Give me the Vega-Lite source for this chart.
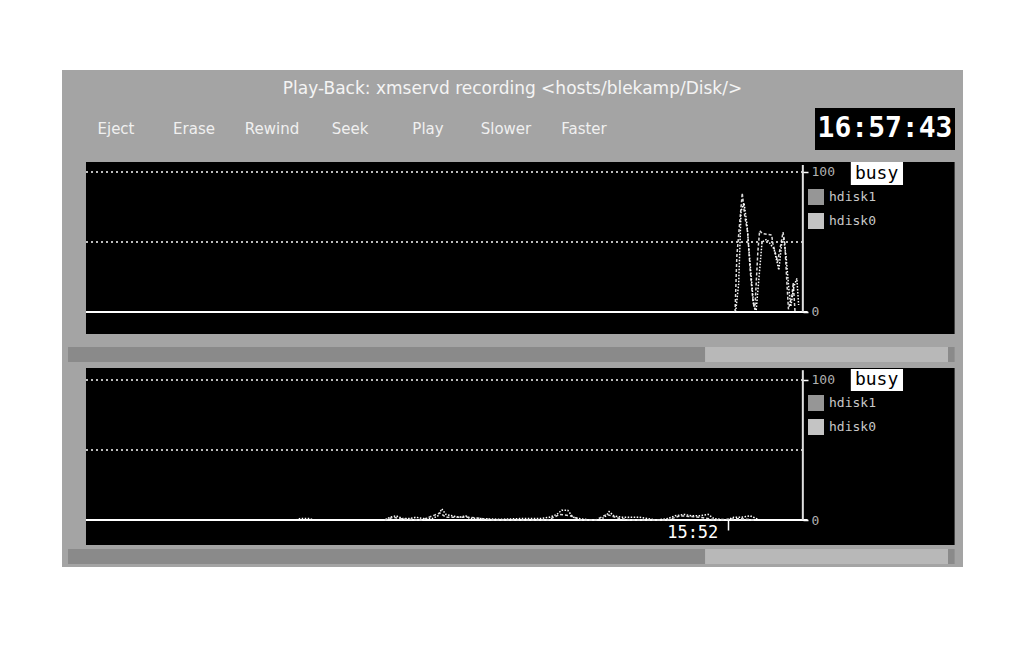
{
  "$schema": "https://vega.github.io/schema/vega-lite/v6.json",
  "background": "white",
  "padding": {"left": 62, "top": 70, "right": 47, "bottom": 84},
  "spacing": 0,
  "config": {"view": {"stroke": null, "fill": "#a4a4a4"}, "concat": {"spacing": 0}},
  "resolve": {"scale": {"color": "independent", "strokeDash": "independent"}, "legend": {"color": "independent", "strokeDash": "independent"}},
  "datasets": {
    "top": [
      {"time": "2024-01-01T15:52:12", "disk": "hdisk1", "busy": 0},
      {"time": "2024-01-01T15:52:15", "disk": "hdisk1", "busy": 40},
      {"time": "2024-01-01T15:52:24", "disk": "hdisk1", "busy": 85},
      {"time": "2024-01-01T15:52:28", "disk": "hdisk1", "busy": 69},
      {"time": "2024-01-01T15:52:33", "disk": "hdisk1", "busy": 57},
      {"time": "2024-01-01T15:52:37", "disk": "hdisk1", "busy": 31},
      {"time": "2024-01-01T15:52:42", "disk": "hdisk1", "busy": 7},
      {"time": "2024-01-01T15:52:45", "disk": "hdisk1", "busy": 2},
      {"time": "2024-01-01T15:52:50", "disk": "hdisk1", "busy": 43},
      {"time": "2024-01-01T15:52:53", "disk": "hdisk1", "busy": 58},
      {"time": "2024-01-01T15:52:58", "disk": "hdisk1", "busy": 56},
      {"time": "2024-01-01T15:53:13", "disk": "hdisk1", "busy": 55},
      {"time": "2024-01-01T15:53:15", "disk": "hdisk1", "busy": 49},
      {"time": "2024-01-01T15:53:23", "disk": "hdisk1", "busy": 36},
      {"time": "2024-01-01T15:53:32", "disk": "hdisk1", "busy": 57},
      {"time": "2024-01-01T15:53:35", "disk": "hdisk1", "busy": 49},
      {"time": "2024-01-01T15:53:38", "disk": "hdisk1", "busy": 24},
      {"time": "2024-01-01T15:53:41", "disk": "hdisk1", "busy": 2},
      {"time": "2024-01-01T15:53:47", "disk": "hdisk1", "busy": 12},
      {"time": "2024-01-01T15:53:49", "disk": "hdisk1", "busy": 21},
      {"time": "2024-01-01T15:53:52", "disk": "hdisk1", "busy": 0},
      {"time": "2024-01-01T15:52:13", "disk": "hdisk0", "busy": 0},
      {"time": "2024-01-01T15:52:18", "disk": "hdisk0", "busy": 20},
      {"time": "2024-01-01T15:52:22", "disk": "hdisk0", "busy": 72},
      {"time": "2024-01-01T15:52:27", "disk": "hdisk0", "busy": 78},
      {"time": "2024-01-01T15:52:32", "disk": "hdisk0", "busy": 62},
      {"time": "2024-01-01T15:52:35", "disk": "hdisk0", "busy": 45},
      {"time": "2024-01-01T15:52:40", "disk": "hdisk0", "busy": 20},
      {"time": "2024-01-01T15:52:43", "disk": "hdisk0", "busy": 5},
      {"time": "2024-01-01T15:52:47", "disk": "hdisk0", "busy": 0},
      {"time": "2024-01-01T15:52:52", "disk": "hdisk0", "busy": 25},
      {"time": "2024-01-01T15:52:57", "disk": "hdisk0", "busy": 50},
      {"time": "2024-01-01T15:53:05", "disk": "hdisk0", "busy": 52},
      {"time": "2024-01-01T15:53:17", "disk": "hdisk0", "busy": 45},
      {"time": "2024-01-01T15:53:25", "disk": "hdisk0", "busy": 30},
      {"time": "2024-01-01T15:53:30", "disk": "hdisk0", "busy": 50},
      {"time": "2024-01-01T15:53:33", "disk": "hdisk0", "busy": 52},
      {"time": "2024-01-01T15:53:37", "disk": "hdisk0", "busy": 40},
      {"time": "2024-01-01T15:53:42", "disk": "hdisk0", "busy": 15},
      {"time": "2024-01-01T15:53:45", "disk": "hdisk0", "busy": 4},
      {"time": "2024-01-01T15:53:50", "disk": "hdisk0", "busy": 18},
      {"time": "2024-01-01T15:53:55", "disk": "hdisk0", "busy": 24},
      {"time": "2024-01-01T15:53:58", "disk": "hdisk0", "busy": 5}
    ],
    "bottom": [
      {"time": "2024-01-01T15:40:00", "disk": "hdisk0", "busy": 0},
      {"time": "2024-01-01T15:40:07", "disk": "hdisk0", "busy": 1},
      {"time": "2024-01-01T15:40:23", "disk": "hdisk0", "busy": 1},
      {"time": "2024-01-01T15:40:30", "disk": "hdisk0", "busy": 0},
      {"time": "2024-01-01T15:42:28", "disk": "hdisk0", "busy": 0},
      {"time": "2024-01-01T15:42:37", "disk": "hdisk0", "busy": 2},
      {"time": "2024-01-01T15:42:47", "disk": "hdisk0", "busy": 3},
      {"time": "2024-01-01T15:42:58", "disk": "hdisk0", "busy": 1},
      {"time": "2024-01-01T15:43:10", "disk": "hdisk0", "busy": 1},
      {"time": "2024-01-01T15:43:20", "disk": "hdisk0", "busy": 2},
      {"time": "2024-01-01T15:43:33", "disk": "hdisk0", "busy": 1},
      {"time": "2024-01-01T15:43:47", "disk": "hdisk0", "busy": 1},
      {"time": "2024-01-01T15:43:57", "disk": "hdisk0", "busy": 3},
      {"time": "2024-01-01T15:44:03", "disk": "hdisk0", "busy": 8},
      {"time": "2024-01-01T15:44:10", "disk": "hdisk0", "busy": 4},
      {"time": "2024-01-01T15:44:20", "disk": "hdisk0", "busy": 3},
      {"time": "2024-01-01T15:44:33", "disk": "hdisk0", "busy": 2},
      {"time": "2024-01-01T15:44:43", "disk": "hdisk0", "busy": 3},
      {"time": "2024-01-01T15:44:50", "disk": "hdisk0", "busy": 1},
      {"time": "2024-01-01T15:45:07", "disk": "hdisk0", "busy": 1},
      {"time": "2024-01-01T15:45:40", "disk": "hdisk0", "busy": 0.5},
      {"time": "2024-01-01T15:46:13", "disk": "hdisk0", "busy": 1},
      {"time": "2024-01-01T15:46:47", "disk": "hdisk0", "busy": 1},
      {"time": "2024-01-01T15:47:03", "disk": "hdisk0", "busy": 2},
      {"time": "2024-01-01T15:47:15", "disk": "hdisk0", "busy": 4},
      {"time": "2024-01-01T15:47:23", "disk": "hdisk0", "busy": 7},
      {"time": "2024-01-01T15:47:33", "disk": "hdisk0", "busy": 7},
      {"time": "2024-01-01T15:47:42", "disk": "hdisk0", "busy": 2},
      {"time": "2024-01-01T15:47:53", "disk": "hdisk0", "busy": 1},
      {"time": "2024-01-01T15:48:10", "disk": "hdisk0", "busy": 0},
      {"time": "2024-01-01T15:48:27", "disk": "hdisk0", "busy": 0},
      {"time": "2024-01-01T15:48:37", "disk": "hdisk0", "busy": 3},
      {"time": "2024-01-01T15:48:42", "disk": "hdisk0", "busy": 6},
      {"time": "2024-01-01T15:48:50", "disk": "hdisk0", "busy": 3},
      {"time": "2024-01-01T15:49:03", "disk": "hdisk0", "busy": 2},
      {"time": "2024-01-01T15:49:17", "disk": "hdisk0", "busy": 2},
      {"time": "2024-01-01T15:49:33", "disk": "hdisk0", "busy": 2},
      {"time": "2024-01-01T15:49:47", "disk": "hdisk0", "busy": 1},
      {"time": "2024-01-01T15:50:00", "disk": "hdisk0", "busy": 0},
      {"time": "2024-01-01T15:50:20", "disk": "hdisk0", "busy": 1},
      {"time": "2024-01-01T15:50:32", "disk": "hdisk0", "busy": 3},
      {"time": "2024-01-01T15:50:47", "disk": "hdisk0", "busy": 4},
      {"time": "2024-01-01T15:51:00", "disk": "hdisk0", "busy": 3},
      {"time": "2024-01-01T15:51:13", "disk": "hdisk0", "busy": 3},
      {"time": "2024-01-01T15:51:27", "disk": "hdisk0", "busy": 4},
      {"time": "2024-01-01T15:51:37", "disk": "hdisk0", "busy": 1},
      {"time": "2024-01-01T15:51:57", "disk": "hdisk0", "busy": 0},
      {"time": "2024-01-01T15:52:10", "disk": "hdisk0", "busy": 2},
      {"time": "2024-01-01T15:52:23", "disk": "hdisk0", "busy": 2},
      {"time": "2024-01-01T15:52:37", "disk": "hdisk0", "busy": 3},
      {"time": "2024-01-01T15:52:48", "disk": "hdisk0", "busy": 1},
      {"time": "2024-01-01T15:52:53", "disk": "hdisk0", "busy": 0},
      {"time": "2024-01-01T15:42:28", "disk": "hdisk1", "busy": 0},
      {"time": "2024-01-01T15:42:42", "disk": "hdisk1", "busy": 2},
      {"time": "2024-01-01T15:42:53", "disk": "hdisk1", "busy": 1},
      {"time": "2024-01-01T15:43:30", "disk": "hdisk1", "busy": 0},
      {"time": "2024-01-01T15:44:00", "disk": "hdisk1", "busy": 5},
      {"time": "2024-01-01T15:44:10", "disk": "hdisk1", "busy": 2},
      {"time": "2024-01-01T15:44:50", "disk": "hdisk1", "busy": 2},
      {"time": "2024-01-01T15:45:30", "disk": "hdisk1", "busy": 0},
      {"time": "2024-01-01T15:47:00", "disk": "hdisk1", "busy": 0},
      {"time": "2024-01-01T15:47:20", "disk": "hdisk1", "busy": 4},
      {"time": "2024-01-01T15:47:37", "disk": "hdisk1", "busy": 3},
      {"time": "2024-01-01T15:47:55", "disk": "hdisk1", "busy": 0},
      {"time": "2024-01-01T15:48:20", "disk": "hdisk1", "busy": 0},
      {"time": "2024-01-01T15:48:38", "disk": "hdisk1", "busy": 4},
      {"time": "2024-01-01T15:49:00", "disk": "hdisk1", "busy": 1},
      {"time": "2024-01-01T15:49:20", "disk": "hdisk1", "busy": 0},
      {"time": "2024-01-01T15:50:20", "disk": "hdisk1", "busy": 0},
      {"time": "2024-01-01T15:50:40", "disk": "hdisk1", "busy": 3},
      {"time": "2024-01-01T15:51:13", "disk": "hdisk1", "busy": 2},
      {"time": "2024-01-01T15:51:40", "disk": "hdisk1", "busy": 0},
      {"time": "2024-01-01T15:52:20", "disk": "hdisk1", "busy": 1},
      {"time": "2024-01-01T15:52:45", "disk": "hdisk1", "busy": 0}
    ]
  },
  "vconcat": [
    {
      "width": 901, "height": 38,
      "view": {"fill": "#a4a4a4"},
      "data": {"values": [{"title": "Play-Back: xmservd recording <hosts/blekamp/Disk/>"}]},
      "mark": {"type": "text", "font": "DejaVu Sans", "fontSize": 17, "color": "#f4f4f4", "align": "center", "baseline": "middle"},
      "encoding": {
        "x": {"field": "title", "type": "nominal", "axis": null, "scale": {"type": "band", "paddingInner": 0, "paddingOuter": 0}},
        "text": {"field": "title"}
      }
    },
    {
      "spacing": 0,
      "hconcat": [
        {
          "width": 753, "height": 42,
          "view": {"fill": "#a4a4a4"},
          "data": {"values": [{"button": "Eject"}, {"button": "Erase"}, {"button": "Rewind"}, {"button": "Seek"}, {"button": "Play"}, {"button": "Slower"}, {"button": "Faster"}]},
          "mark": {"type": "text", "font": "DejaVu Sans", "fontSize": 15, "color": "#f0f0f0", "baseline": "middle"},
          "encoding": {
            "x": {"field": "button", "type": "nominal", "sort": null, "scale": {"type": "band", "range": [15, 561], "paddingInner": 0, "paddingOuter": 0}, "axis": null},
            "text": {"field": "button"}
          }
        },
        {
          "width": 140, "height": 42,
          "view": {"fill": "black"},
          "data": {"values": [{"clock": "16:57:43"}]},
          "mark": {"type": "text", "font": "DejaVu Sans Mono", "fontWeight": "bold", "fontSize": 28, "color": "white", "align": "center", "baseline": "middle"},
          "encoding": {
            "x": {"field": "clock", "type": "nominal", "axis": null, "scale": {"type": "band", "paddingInner": 0, "paddingOuter": 0}},
            "text": {"field": "clock"}
          }
        },
        {
          "width": 8, "height": 42,
          "view": {"fill": "#a4a4a4"},
          "data": {"values": [{"k": ""}]},
          "mark": "text",
          "encoding": {"x": {"field": "k", "type": "nominal", "axis": null}, "text": {"field": "k"}}
        }
      ]
    },
    {
      "width": 901, "height": 12,
      "view": {"fill": "#a4a4a4"},
      "data": {"values": [{"k": ""}]},
      "mark": "text",
      "encoding": {"x": {"field": "k", "type": "nominal", "axis": null}, "text": {"field": "k"}}
    },
    {
      "width": 901, "height": 206,
      "view": {"fill": "#a4a4a4"},
      "layer": [
        {
          "data": {"values": [{}]},
          "mark": {"type": "rect", "color": "black"},
          "encoding": {
            "x": {"datum": {"year": 2024, "month": 1, "date": 1, "hours": 15, "minutes": 34, "seconds": 10}, "type": "temporal",
                  "scale": {"domain": [{"year": 2024, "month": 1, "date": 1, "hours": 15, "minutes": 33, "seconds": 30}, {"year": 2024, "month": 1, "date": 1, "hours": 15, "minutes": 58, "seconds": 32}], "nice": false}, "axis": null},
            "x2": {"datum": {"year": 2024, "month": 1, "date": 1, "hours": 15, "minutes": 58, "seconds": 18}},
            "y": {"datum": 107.14, "type": "quantitative", "scale": {"domain": [-40, 107.14], "nice": false, "zero": false},
                  "axis": {"orient": "right", "offset": -160, "zindex": 2, "values": [0, 100], "domain": false, "grid": false, "tickColor": "white", "tickSize": 5, "tickWidth": 1.5, "labelColor": "#b0b0b0", "labelFont": "DejaVu Sans Mono", "labelFontSize": 13, "labelPadding": 3, "title": null}},
            "y2": {"datum": -15.71}
          }
        },
        {
          "data": {"values": [{}]},
          "mark": {"type": "rect", "color": "#8a8a8a"},
          "encoding": {
            "x": {"datum": {"year": 2024, "month": 1, "date": 1, "hours": 15, "minutes": 33, "seconds": 40}, "type": "temporal", "axis": null},
            "x2": {"datum": {"year": 2024, "month": 1, "date": 1, "hours": 15, "minutes": 58, "seconds": 18}},
            "y": {"datum": -25, "type": "quantitative", "axis": {"orient": "right", "offset": -160, "zindex": 2, "values": [0, 100], "domain": false, "grid": false, "tickColor": "white", "tickSize": 5, "tickWidth": 1.5, "labelColor": "#b0b0b0", "labelFont": "DejaVu Sans Mono", "labelFontSize": 13, "labelPadding": 3, "title": null}},
            "y2": {"datum": -35.7}
          }
        },
        {
          "data": {"values": [{}]},
          "mark": {"type": "rect", "color": "#b8b8b8"},
          "encoding": {
            "x": {"datum": {"year": 2024, "month": 1, "date": 1, "hours": 15, "minutes": 51, "seconds": 22}, "type": "temporal", "axis": null},
            "x2": {"datum": {"year": 2024, "month": 1, "date": 1, "hours": 15, "minutes": 58, "seconds": 7}},
            "y": {"datum": -25, "type": "quantitative", "axis": {"orient": "right", "offset": -160, "zindex": 2, "values": [0, 100], "domain": false, "grid": false, "tickColor": "white", "tickSize": 5, "tickWidth": 1.5, "labelColor": "#b0b0b0", "labelFont": "DejaVu Sans Mono", "labelFontSize": 13, "labelPadding": 3, "title": null}},
            "y2": {"datum": -35.7}
          }
        },
        {
          "data": {"values": [{"level": 50}, {"level": 100}]},
          "mark": {"type": "rule", "color": "white", "strokeDash": [2, 3], "strokeWidth": 1.5},
          "encoding": {
            "x": {"datum": {"year": 2024, "month": 1, "date": 1, "hours": 15, "minutes": 34, "seconds": 10}, "type": "temporal", "axis": null},
            "x2": {"datum": {"year": 2024, "month": 1, "date": 1, "hours": 15, "minutes": 54, "seconds": 5}},
            "y": {"field": "level", "type": "quantitative", "axis": {"orient": "right", "offset": -160, "zindex": 2, "values": [0, 100], "domain": false, "grid": false, "tickColor": "white", "tickSize": 5, "tickWidth": 1.5, "labelColor": "#b0b0b0", "labelFont": "DejaVu Sans Mono", "labelFontSize": 13, "labelPadding": 3, "title": null}}
          }
        },
        {
          "data": {"values": [{}]},
          "mark": {"type": "rule", "color": "white", "strokeWidth": 2},
          "encoding": {
            "x": {"datum": {"year": 2024, "month": 1, "date": 1, "hours": 15, "minutes": 34, "seconds": 10}, "type": "temporal", "axis": null},
            "x2": {"datum": {"year": 2024, "month": 1, "date": 1, "hours": 15, "minutes": 54, "seconds": 13}},
            "y": {"datum": 0, "type": "quantitative", "axis": {"orient": "right", "offset": -160, "zindex": 2, "values": [0, 100], "domain": false, "grid": false, "tickColor": "white", "tickSize": 5, "tickWidth": 1.5, "labelColor": "#b0b0b0", "labelFont": "DejaVu Sans Mono", "labelFontSize": 13, "labelPadding": 3, "title": null}}
          }
        },
        {
          "data": {"values": [{}]},
          "mark": {"type": "rule", "color": "#e0e0e0", "strokeWidth": 2},
          "encoding": {
            "x": {"datum": {"year": 2024, "month": 1, "date": 1, "hours": 15, "minutes": 54, "seconds": 5}, "type": "temporal", "axis": null},
            "y": {"datum": 0, "type": "quantitative", "axis": {"orient": "right", "offset": -160, "zindex": 2, "values": [0, 100], "domain": false, "grid": false, "tickColor": "white", "tickSize": 5, "tickWidth": 1.5, "labelColor": "#b0b0b0", "labelFont": "DejaVu Sans Mono", "labelFontSize": 13, "labelPadding": 3, "title": null}},
            "y2": {"datum": 105}
          }
        },
        {
          "data": {"name": "top"},
          "mark": {"type": "line", "strokeWidth": 1.5},
          "encoding": {
            "x": {"field": "time", "type": "temporal", "axis": null},
            "y": {"field": "busy", "type": "quantitative", "axis": {"orient": "right", "offset": -160, "zindex": 2, "values": [0, 100], "domain": false, "grid": false, "tickColor": "white", "tickSize": 5, "tickWidth": 1.5, "labelColor": "#b0b0b0", "labelFont": "DejaVu Sans Mono", "labelFontSize": 13, "labelPadding": 3, "title": null}},
            "color": {"field": "disk", "type": "nominal", "scale": {"domain": ["hdisk1", "hdisk0"], "range": ["#dcdcdc", "#ffffff"]},
                      "legend": {"orient": "none", "legendX": 746, "legendY": 27, "title": null, "padding": 0, "symbolType": "square", "symbolSize": 256, "labelColor": "#c8c8c8", "labelFont": "DejaVu Sans Mono", "labelFontSize": 13, "labelOffset": 5, "rowPadding": 8,
                                 "encode": {"symbols": {"update": {"fill": {"signal": "datum.value === 'hdisk1' ? '#969696' : '#c4c4c4'"}, "strokeWidth": {"value": 0}}}}}},
            "strokeDash": {"field": "disk", "type": "nominal", "scale": {"domain": ["hdisk1", "hdisk0"], "range": [[3, 2], [1.5, 1.5]]}, "legend": null}
          }
        },
        {
          "data": {"values": [{}]},
          "mark": {"type": "rect", "color": "white"},
          "encoding": {
            "x": {"datum": {"year": 2024, "month": 1, "date": 1, "hours": 15, "minutes": 55, "seconds": 25}, "type": "temporal", "axis": null},
            "x2": {"datum": {"year": 2024, "month": 1, "date": 1, "hours": 15, "minutes": 56, "seconds": 52}},
            "y": {"datum": 107.14, "type": "quantitative", "axis": {"orient": "right", "offset": -160, "zindex": 2, "values": [0, 100], "domain": false, "grid": false, "tickColor": "white", "tickSize": 5, "tickWidth": 1.5, "labelColor": "#b0b0b0", "labelFont": "DejaVu Sans Mono", "labelFontSize": 13, "labelPadding": 3, "title": null}},
            "y2": {"datum": 90.7}
          }
        },
        {
          "data": {"values": [{"label": "busy"}]},
          "mark": {"type": "text", "font": "DejaVu Sans Mono", "fontSize": 18, "color": "black", "align": "center", "baseline": "middle"},
          "encoding": {
            "x": {"datum": {"year": 2024, "month": 1, "date": 1, "hours": 15, "minutes": 56, "seconds": 8}, "type": "temporal", "axis": null},
            "y": {"datum": 98.9, "type": "quantitative", "axis": {"orient": "right", "offset": -160, "zindex": 2, "values": [0, 100], "domain": false, "grid": false, "tickColor": "white", "tickSize": 5, "tickWidth": 1.5, "labelColor": "#b0b0b0", "labelFont": "DejaVu Sans Mono", "labelFontSize": 13, "labelPadding": 3, "title": null}},
            "text": {"field": "label"}
          }
        }
      ]
    },
    {
      "width": 901, "height": 199,
      "view": {"fill": "#a4a4a4"},
      "layer": [
        {
          "data": {"values": [{}]},
          "mark": {"type": "rect", "color": "black"},
          "encoding": {
            "x": {"datum": {"year": 2024, "month": 1, "date": 1, "hours": 15, "minutes": 34, "seconds": 10}, "type": "temporal",
                  "scale": {"domain": [{"year": 2024, "month": 1, "date": 1, "hours": 15, "minutes": 33, "seconds": 30}, {"year": 2024, "month": 1, "date": 1, "hours": 15, "minutes": 58, "seconds": 32}], "nice": false},
                  "axis": {"orient": "bottom", "offset": -47, "zindex": 2, "values": [{"year": 2024, "month": 1, "date": 1, "hours": 15, "minutes": 52}], "format": "%H:%M", "domain": false, "grid": false, "tickColor": "white", "tickSize": 10, "tickWidth": 1.5, "labelColor": "white", "labelFont": "DejaVu Sans Mono", "labelFontSize": 17, "labelAlign": "right", "labelBaseline": "top", "labelOffset": -10, "labelPadding": -6, "labelFlush": false, "title": null}},
            "x2": {"datum": {"year": 2024, "month": 1, "date": 1, "hours": 15, "minutes": 58, "seconds": 18}},
            "y": {"datum": 108.57, "type": "quantitative", "scale": {"domain": [-33.57, 108.57], "nice": false, "zero": false},
                  "axis": {"orient": "right", "offset": -160, "zindex": 2, "values": [0, 100], "domain": false, "grid": false, "tickColor": "white", "tickSize": 5, "tickWidth": 1.5, "labelColor": "#b0b0b0", "labelFont": "DejaVu Sans Mono", "labelFontSize": 13, "labelPadding": 3, "title": null}},
            "y2": {"datum": -17.86}
          }
        },
        {
          "data": {"values": [{}]},
          "mark": {"type": "rect", "color": "#8a8a8a"},
          "encoding": {
            "x": {"datum": {"year": 2024, "month": 1, "date": 1, "hours": 15, "minutes": 33, "seconds": 40}, "type": "temporal",
                  "axis": {"orient": "bottom", "offset": -47, "zindex": 2, "values": [{"year": 2024, "month": 1, "date": 1, "hours": 15, "minutes": 52}], "format": "%H:%M", "domain": false, "grid": false, "tickColor": "white", "tickSize": 10, "tickWidth": 1.5, "labelColor": "white", "labelFont": "DejaVu Sans Mono", "labelFontSize": 17, "labelAlign": "right", "labelBaseline": "top", "labelOffset": -10, "labelPadding": -6, "labelFlush": false, "title": null}},
            "x2": {"datum": {"year": 2024, "month": 1, "date": 1, "hours": 15, "minutes": 58, "seconds": 18}},
            "y": {"datum": -20.7, "type": "quantitative", "axis": {"orient": "right", "offset": -160, "zindex": 2, "values": [0, 100], "domain": false, "grid": false, "tickColor": "white", "tickSize": 5, "tickWidth": 1.5, "labelColor": "#b0b0b0", "labelFont": "DejaVu Sans Mono", "labelFontSize": 13, "labelPadding": 3, "title": null}},
            "y2": {"datum": -31.4}
          }
        },
        {
          "data": {"values": [{}]},
          "mark": {"type": "rect", "color": "#b8b8b8"},
          "encoding": {
            "x": {"datum": {"year": 2024, "month": 1, "date": 1, "hours": 15, "minutes": 51, "seconds": 22}, "type": "temporal",
                  "axis": {"orient": "bottom", "offset": -47, "zindex": 2, "values": [{"year": 2024, "month": 1, "date": 1, "hours": 15, "minutes": 52}], "format": "%H:%M", "domain": false, "grid": false, "tickColor": "white", "tickSize": 10, "tickWidth": 1.5, "labelColor": "white", "labelFont": "DejaVu Sans Mono", "labelFontSize": 17, "labelAlign": "right", "labelBaseline": "top", "labelOffset": -10, "labelPadding": -6, "labelFlush": false, "title": null}},
            "x2": {"datum": {"year": 2024, "month": 1, "date": 1, "hours": 15, "minutes": 58, "seconds": 7}},
            "y": {"datum": -20.7, "type": "quantitative", "axis": {"orient": "right", "offset": -160, "zindex": 2, "values": [0, 100], "domain": false, "grid": false, "tickColor": "white", "tickSize": 5, "tickWidth": 1.5, "labelColor": "#b0b0b0", "labelFont": "DejaVu Sans Mono", "labelFontSize": 13, "labelPadding": 3, "title": null}},
            "y2": {"datum": -31.4}
          }
        },
        {
          "data": {"values": [{"level": 50}, {"level": 100}]},
          "mark": {"type": "rule", "color": "white", "strokeDash": [2, 3], "strokeWidth": 1.5},
          "encoding": {
            "x": {"datum": {"year": 2024, "month": 1, "date": 1, "hours": 15, "minutes": 34, "seconds": 10}, "type": "temporal",
                  "axis": {"orient": "bottom", "offset": -47, "zindex": 2, "values": [{"year": 2024, "month": 1, "date": 1, "hours": 15, "minutes": 52}], "format": "%H:%M", "domain": false, "grid": false, "tickColor": "white", "tickSize": 10, "tickWidth": 1.5, "labelColor": "white", "labelFont": "DejaVu Sans Mono", "labelFontSize": 17, "labelAlign": "right", "labelBaseline": "top", "labelOffset": -10, "labelPadding": -6, "labelFlush": false, "title": null}},
            "x2": {"datum": {"year": 2024, "month": 1, "date": 1, "hours": 15, "minutes": 54, "seconds": 5}},
            "y": {"field": "level", "type": "quantitative", "axis": {"orient": "right", "offset": -160, "zindex": 2, "values": [0, 100], "domain": false, "grid": false, "tickColor": "white", "tickSize": 5, "tickWidth": 1.5, "labelColor": "#b0b0b0", "labelFont": "DejaVu Sans Mono", "labelFontSize": 13, "labelPadding": 3, "title": null}}
          }
        },
        {
          "data": {"values": [{}]},
          "mark": {"type": "rule", "color": "white", "strokeWidth": 2},
          "encoding": {
            "x": {"datum": {"year": 2024, "month": 1, "date": 1, "hours": 15, "minutes": 34, "seconds": 10}, "type": "temporal",
                  "axis": {"orient": "bottom", "offset": -47, "zindex": 2, "values": [{"year": 2024, "month": 1, "date": 1, "hours": 15, "minutes": 52}], "format": "%H:%M", "domain": false, "grid": false, "tickColor": "white", "tickSize": 10, "tickWidth": 1.5, "labelColor": "white", "labelFont": "DejaVu Sans Mono", "labelFontSize": 17, "labelAlign": "right", "labelBaseline": "top", "labelOffset": -10, "labelPadding": -6, "labelFlush": false, "title": null}},
            "x2": {"datum": {"year": 2024, "month": 1, "date": 1, "hours": 15, "minutes": 54, "seconds": 13}},
            "y": {"datum": 0, "type": "quantitative", "axis": {"orient": "right", "offset": -160, "zindex": 2, "values": [0, 100], "domain": false, "grid": false, "tickColor": "white", "tickSize": 5, "tickWidth": 1.5, "labelColor": "#b0b0b0", "labelFont": "DejaVu Sans Mono", "labelFontSize": 13, "labelPadding": 3, "title": null}}
          }
        },
        {
          "data": {"values": [{}]},
          "mark": {"type": "rule", "color": "#e0e0e0", "strokeWidth": 2},
          "encoding": {
            "x": {"datum": {"year": 2024, "month": 1, "date": 1, "hours": 15, "minutes": 54, "seconds": 5}, "type": "temporal",
                  "axis": {"orient": "bottom", "offset": -47, "zindex": 2, "values": [{"year": 2024, "month": 1, "date": 1, "hours": 15, "minutes": 52}], "format": "%H:%M", "domain": false, "grid": false, "tickColor": "white", "tickSize": 10, "tickWidth": 1.5, "labelColor": "white", "labelFont": "DejaVu Sans Mono", "labelFontSize": 17, "labelAlign": "right", "labelBaseline": "top", "labelOffset": -10, "labelPadding": -6, "labelFlush": false, "title": null}},
            "y": {"datum": 0, "type": "quantitative", "axis": {"orient": "right", "offset": -160, "zindex": 2, "values": [0, 100], "domain": false, "grid": false, "tickColor": "white", "tickSize": 5, "tickWidth": 1.5, "labelColor": "#b0b0b0", "labelFont": "DejaVu Sans Mono", "labelFontSize": 13, "labelPadding": 3, "title": null}},
            "y2": {"datum": 107}
          }
        },
        {
          "data": {"name": "bottom"},
          "mark": {"type": "line", "strokeWidth": 1.5},
          "encoding": {
            "x": {"field": "time", "type": "temporal",
                  "axis": {"orient": "bottom", "offset": -47, "zindex": 2, "values": [{"year": 2024, "month": 1, "date": 1, "hours": 15, "minutes": 52}], "format": "%H:%M", "domain": false, "grid": false, "tickColor": "white", "tickSize": 10, "tickWidth": 1.5, "labelColor": "white", "labelFont": "DejaVu Sans Mono", "labelFontSize": 17, "labelAlign": "right", "labelBaseline": "top", "labelOffset": -10, "labelPadding": -6, "labelFlush": false, "title": null}},
            "y": {"field": "busy", "type": "quantitative", "axis": {"orient": "right", "offset": -160, "zindex": 2, "values": [0, 100], "domain": false, "grid": false, "tickColor": "white", "tickSize": 5, "tickWidth": 1.5, "labelColor": "#b0b0b0", "labelFont": "DejaVu Sans Mono", "labelFontSize": 13, "labelPadding": 3, "title": null}},
            "color": {"field": "disk", "type": "nominal", "scale": {"domain": ["hdisk1", "hdisk0"], "range": ["#dcdcdc", "#ffffff"]},
                      "legend": {"orient": "none", "legendX": 746, "legendY": 27, "title": null, "padding": 0, "symbolType": "square", "symbolSize": 256, "labelColor": "#c8c8c8", "labelFont": "DejaVu Sans Mono", "labelFontSize": 13, "labelOffset": 5, "rowPadding": 8,
                                 "encode": {"symbols": {"update": {"fill": {"signal": "datum.value === 'hdisk1' ? '#969696' : '#c4c4c4'"}, "strokeWidth": {"value": 0}}}}}},
            "strokeDash": {"field": "disk", "type": "nominal", "scale": {"domain": ["hdisk1", "hdisk0"], "range": [[3, 2], [1.5, 1.5]]}, "legend": null}
          }
        },
        {
          "data": {"values": [{}]},
          "mark": {"type": "rect", "color": "white"},
          "encoding": {
            "x": {"datum": {"year": 2024, "month": 1, "date": 1, "hours": 15, "minutes": 55, "seconds": 25}, "type": "temporal",
                  "axis": {"orient": "bottom", "offset": -47, "zindex": 2, "values": [{"year": 2024, "month": 1, "date": 1, "hours": 15, "minutes": 52}], "format": "%H:%M", "domain": false, "grid": false, "tickColor": "white", "tickSize": 10, "tickWidth": 1.5, "labelColor": "white", "labelFont": "DejaVu Sans Mono", "labelFontSize": 17, "labelAlign": "right", "labelBaseline": "top", "labelOffset": -10, "labelPadding": -6, "labelFlush": false, "title": null}},
            "x2": {"datum": {"year": 2024, "month": 1, "date": 1, "hours": 15, "minutes": 56, "seconds": 52}},
            "y": {"datum": 107.86, "type": "quantitative", "axis": {"orient": "right", "offset": -160, "zindex": 2, "values": [0, 100], "domain": false, "grid": false, "tickColor": "white", "tickSize": 5, "tickWidth": 1.5, "labelColor": "#b0b0b0", "labelFont": "DejaVu Sans Mono", "labelFontSize": 13, "labelPadding": 3, "title": null}},
            "y2": {"datum": 92.14}
          }
        },
        {
          "data": {"values": [{"label": "busy"}]},
          "mark": {"type": "text", "font": "DejaVu Sans Mono", "fontSize": 18, "color": "black", "align": "center", "baseline": "middle"},
          "encoding": {
            "x": {"datum": {"year": 2024, "month": 1, "date": 1, "hours": 15, "minutes": 56, "seconds": 8}, "type": "temporal",
                  "axis": {"orient": "bottom", "offset": -47, "zindex": 2, "values": [{"year": 2024, "month": 1, "date": 1, "hours": 15, "minutes": 52}], "format": "%H:%M", "domain": false, "grid": false, "tickColor": "white", "tickSize": 10, "tickWidth": 1.5, "labelColor": "white", "labelFont": "DejaVu Sans Mono", "labelFontSize": 17, "labelAlign": "right", "labelBaseline": "top", "labelOffset": -10, "labelPadding": -6, "labelFlush": false, "title": null}},
            "y": {"datum": 100, "type": "quantitative", "axis": {"orient": "right", "offset": -160, "zindex": 2, "values": [0, 100], "domain": false, "grid": false, "tickColor": "white", "tickSize": 5, "tickWidth": 1.5, "labelColor": "#b0b0b0", "labelFont": "DejaVu Sans Mono", "labelFontSize": 13, "labelPadding": 3, "title": null}},
            "text": {"field": "label"}
          }
        }
      ]
    }
  ]
}
